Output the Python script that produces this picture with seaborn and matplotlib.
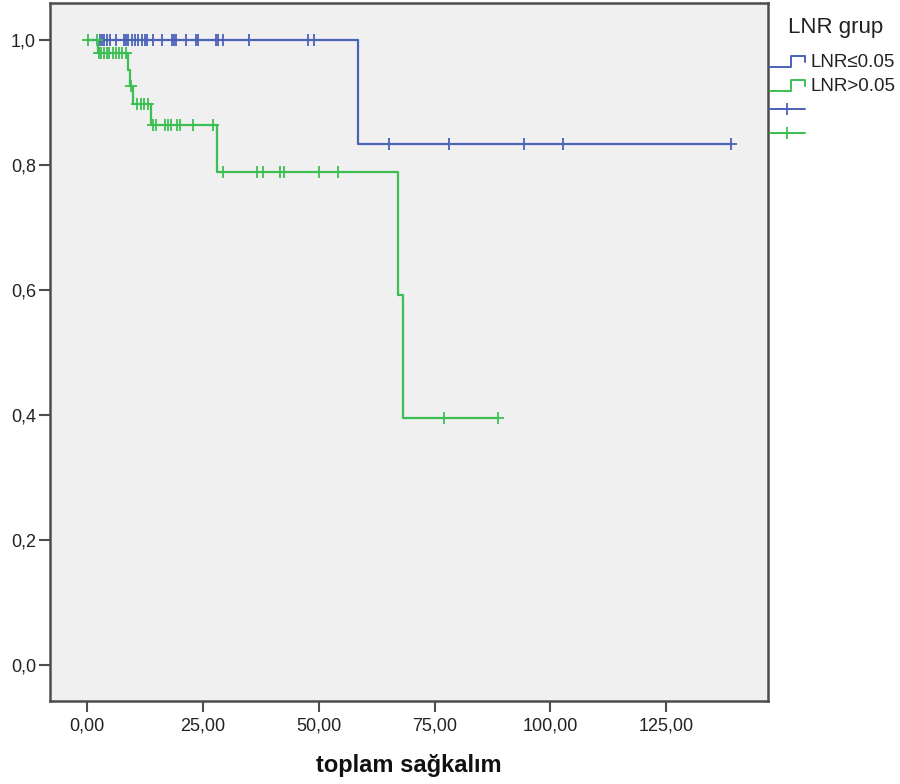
import numpy as np
import pandas as pd
import matplotlib
matplotlib.use("Agg")
import matplotlib.pyplot as plt
import seaborn as sns
from matplotlib.lines import Line2D
from matplotlib.legend_handler import HandlerBase
from matplotlib.ticker import FuncFormatter

# ---------------- data ----------------
group_names = ["LNR≤0.05", "LNR>0.05"]
legend_title = "LNR grup"
x_label = "toplam sağkalım"
x_ticks = [0, 25, 50, 75, 100, 125]
y_ticks = [0.0, 0.2, 0.4, 0.6, 0.8, 1.0]

# Kaplan-Meier step functions: event times and survival after each step
blue_step_times = [0.0, 58.4]
blue_step_surv = [1.0, 0.833]
blue_censor_times = [2.8, 3.3, 3.8, 4.4, 5.1, 6.3, 8.1, 8.5, 9.0, 9.7, 10.5,
                     11.0, 11.9, 12.5, 13.1, 14.4, 16.3, 18.4, 18.9, 19.3,
                     21.4, 23.5, 24.0, 27.8, 28.3, 29.5, 35.1, 47.8, 49.1,
                     65.2, 78.2, 94.3, 102.8, 139.0]

green_step_times = [0.0, 2.5, 9.0, 9.3, 9.9, 13.8, 28.2, 67.2, 68.1]
green_step_surv = [1.0, 0.979, 0.952, 0.926, 0.898, 0.863, 0.789, 0.592, 0.395]
green_censor_times = [0.2, 2.3, 2.7, 3.2, 3.7, 4.3, 4.9, 5.6, 6.3, 7.0, 7.7,
                      8.4, 9.5, 10.8, 11.7, 12.4, 13.3, 14.4, 14.9, 16.9,
                      17.6, 18.1, 19.4, 20.2, 23.0, 27.3, 29.5, 36.7, 38.1,
                      41.7, 42.6, 50.0, 54.3, 77.1, 88.6]

colors = {"LNR≤0.05": "#4A62B8", "LNR>0.05": "#3CBF52"}

# ---------------- build tables ----------------
def step_table(name, times, surv, censors):
    end = max(max(censors), max(times))
    t = list(times) + [end]
    s = list(surv) + [surv[-1]]
    return pd.DataFrame({"time": t, "surv": s, "group": name})

def censor_table(name, times, surv, censors):
    times = np.asarray(times)
    surv = np.asarray(surv)
    ys = [surv[np.searchsorted(times, c, side="right") - 1] for c in censors]
    return pd.DataFrame({"time": censors, "surv": ys, "group": name})

steps = {
    group_names[0]: step_table(group_names[0], blue_step_times, blue_step_surv, blue_censor_times),
    group_names[1]: step_table(group_names[1], green_step_times, green_step_surv, green_censor_times),
}
cens = {
    group_names[0]: censor_table(group_names[0], blue_step_times, blue_step_surv, blue_censor_times),
    group_names[1]: censor_table(group_names[1], green_step_times, green_step_surv, green_censor_times),
}

# ---------------- style ----------------
sns.set_style("white")
plt.rcParams["font.family"] = ["Liberation Sans", "DejaVu Sans"]

W, H = 900, 784
fig = plt.figure(figsize=(W / 100, H / 100), dpi=100)
ax = fig.add_axes([50 / W, 1 - 701 / H, 718 / W, 698 / H])
ax.set_facecolor("#F0F0F0")

LW = 1.6
for g in group_names:
    sns.lineplot(data=steps[g], x="time", y="surv", color=colors[g],
                 drawstyle="steps-post", estimator=None, sort=False,
                 linewidth=LW, ax=ax, legend=False)
for g in group_names:
    sns.scatterplot(data=cens[g], x="time", y="surv", color=colors[g],
                    marker="+", s=70, linewidth=1.3, ax=ax, legend=False,
                    zorder=3)

ax.set_xlim(-7.9, 146.9)
ax.set_ylim(-0.058, 1.059)
ax.set_xticks(x_ticks)
ax.set_yticks(y_ticks)
ax.xaxis.set_major_formatter(FuncFormatter(lambda v, p: f"{v:.2f}".replace(".", ",")))
ax.yaxis.set_major_formatter(FuncFormatter(lambda v, p: f"{v:.1f}".replace(".", ",")))
ax.tick_params(axis="both", direction="out", length=8, width=1.5,
               color="#4D4D4D", labelcolor="#222222", labelsize=13,
               bottom=True, left=True)
ax.tick_params(axis="x", pad=4)
ax.tick_params(axis="y", pad=2)
for sp in ax.spines.values():
    sp.set_visible(True)
    sp.set_color("#4D4D4D")
    sp.set_linewidth(1.8)
ax.set_ylabel("")
ax.set_xlabel(x_label, fontsize=17, fontweight="bold", color="#111111", labelpad=14)

# ---------------- legend ----------------
class StepLine(Line2D):
    pass

class StepHandler(HandlerBase):
    def create_artists(self, legend, orig_handle, xdescent, ydescent,
                       width, height, fontsize, trans):
        x0, y0 = -xdescent, -ydescent
        xs = np.array([0, 0.6, 0.6, 1.0, 1.0]) * width + x0
        ys = np.array([0.0, 0.0, 0.85, 0.85, 0.4]) * height + y0
        ln = Line2D(xs, ys, color=orig_handle.get_color(),
                    linewidth=orig_handle.get_linewidth(), transform=trans)
        return [ln]

handles = [
    StepLine([], [], color=colors[group_names[0]], linewidth=1.4),
    StepLine([], [], color=colors[group_names[1]], linewidth=1.4),
    Line2D([], [], color=colors[group_names[0]], linewidth=1.4, marker="+",
           markersize=9, markeredgewidth=1.3),
    Line2D([], [], color=colors[group_names[1]], linewidth=1.4, marker="+",
           markersize=9, markeredgewidth=1.3),
]
labels = [group_names[0], group_names[1], "", ""]
fig.text(836 / W, 1 - 27 / H, legend_title, fontsize=16, color="#222222",
         ha="center", va="center")
leg = fig.legend(handles, labels, handler_map={StepLine: StepHandler()},
                 loc="upper left", bbox_to_anchor=(770 / W, 1 - 54 / H),
                 bbox_transform=fig.transFigure, frameon=False,
                 fontsize=13.5, borderpad=0, borderaxespad=0,
                 handlelength=1.85, handletextpad=0.3, labelspacing=0.38,
                 numpoints=1)
for t in leg.get_texts():
    t.set_color("#222222")

fig.savefig("out.png", dpi=100)
